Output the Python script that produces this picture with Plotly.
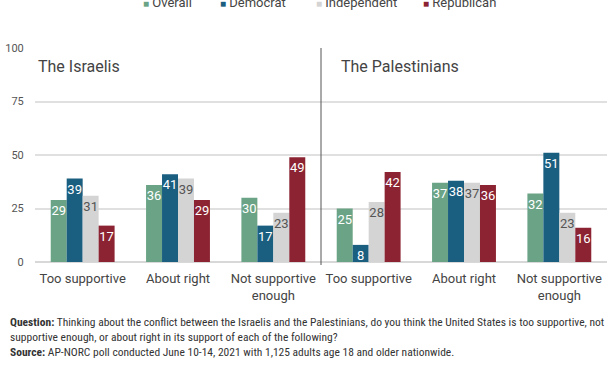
import plotly.graph_objects as go

# ---- data ----
panels = ["The Israelis", "The Palestinians"]
categories = ["Too supportive", "About right", "Not supportive<br>enough"]
series_names = ["Overall", "Democrat", "Independent", "Republican"]

overall_israelis = [29, 36, 30]
democrat_israelis = [39, 41, 17]
independent_israelis = [31, 39, 23]
republican_israelis = [17, 29, 49]

overall_palestinians = [25, 37, 32]
democrat_palestinians = [8, 38, 51]
independent_palestinians = [28, 37, 23]
republican_palestinians = [42, 36, 16]

y_ticks = [0, 25, 50, 75, 100]

# ---- styling ----
colors = ["#6aa385", "#1a5e80", "#d4d4d4", "#8b2332"]
label_colors = ["white", "white", "#555555", "white"]

W, H = 612, 374
ML, MR, MT, MB = 35, 5, 48, 112
PW, PH = W - ML - MR, H - MT - MB


def px_x(px):
    return (px - ML) / PW


def px_y(py):
    return (H - MB - py) / PH


series_values = [
    overall_israelis + overall_palestinians,
    democrat_israelis + democrat_palestinians,
    independent_israelis + independent_palestinians,
    republican_israelis + republican_palestinians,
]
all_cats = categories + categories
x_pos = list(range(len(all_cats)))

fig = go.Figure()
for name, vals, col, lc in zip(series_names, series_values, colors, label_colors):
    fig.add_trace(go.Bar(
        x=x_pos, y=vals, name=name,
        marker=dict(color=col, line=dict(width=0)),
        text=vals, texttemplate="%{text}",
        textposition="inside", insidetextanchor="end", textangle=0,
        textfont=dict(color=lc, size=13, family="Roboto"),
        showlegend=False,
    ))

fig.update_layout(
    width=W, height=H,
    margin=dict(l=ML, r=MR, t=MT, b=MB, autoexpand=False),
    barmode="group", bargap=0.33, bargroupgap=0,
    plot_bgcolor="white", paper_bgcolor="white",
    font=dict(family="Roboto", color="#444444"),
    uniformtext=dict(minsize=13, mode="show"),
    xaxis=dict(
        tickvals=x_pos, ticktext=all_cats, range=[-0.5, len(all_cats) - 0.5],
        showgrid=False, zeroline=False, showline=False,
        ticks="outside", ticklen=4, tickcolor="rgba(0,0,0,0)",
        tickfont=dict(size=13, color="#444444"),
    ),
    yaxis=dict(
        range=[0, 100], tickvals=y_ticks,
        showgrid=True, gridcolor="#e0e0e0", gridwidth=1.5,
        zeroline=True, zerolinecolor="#d8d8d8", zerolinewidth=1.5,
        showline=False,
        ticks="outside", ticklen=8, tickcolor="rgba(0,0,0,0)",
        tickfont=dict(size=11, color="#555555"),
    ),
)

# divider between the two panels
fig.add_shape(type="line", xref="x", yref="paper",
              x0=(len(categories) - 1) + 0.5, x1=(len(categories) - 1) + 0.5,
              y0=px_y(265), y1=1.0, line=dict(color="#555555", width=1))

# panel titles
title_x_px = [36, 339]
for t, xp in zip(panels, title_x_px):
    fig.add_annotation(text=t, xref="paper", yref="paper", x=px_x(xp), y=px_y(66),
                       xanchor="left", yanchor="middle", showarrow=False,
                       font=dict(size=16, color="#444444", family="Roboto"))

# legend (top, partially cut off like in the reference)
legend_x_px = [141, 218, 314, 421]
for name, col, xp in zip(series_names, colors, legend_x_px):
    fig.add_annotation(
        text=f'<span style="color:{col};font-size:10px">■</span> {name}',
        xref="paper", yref="paper", x=px_x(xp), y=px_y(2),
        xanchor="left", yanchor="middle", showarrow=False,
        font=dict(size=13, color="#444444", family="Roboto"))

# footnote
fig.add_annotation(
    text=("<b>Question:</b> Thinking about the conflict between the Israelis and the Palestinians, "
          "do you think the United States is too supportive, not<br>supportive enough, or about right "
          "in its support of each of the following?<br><b>Source:</b> AP-NORC poll conducted June 10-14, "
          "2021 with 1,125 adults age 18 and older nationwide."),
    xref="paper", yref="paper", x=px_x(8), y=px_y(313),
    xanchor="left", yanchor="top", align="left", showarrow=False,
    font=dict(size=11.5, color="#333333", family="Liberation Sans Narrow, Roboto Condensed, Arial Narrow, Roboto"))

fig.write_html("out.html", config={"displayModeBar": False},
               post_script="document.body.style.margin='0';")
